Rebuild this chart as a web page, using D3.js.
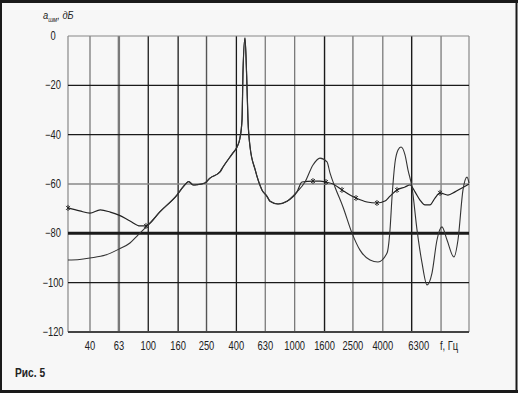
<!DOCTYPE html>
<html><head><meta charset="utf-8">
<script src="https://cdn.jsdelivr.net/npm/d3@7"></script>
<style>
html,body{margin:0;padding:0;background:#f7f7f7;}
svg{display:block;}
.lbl{font-family:"Liberation Sans",Arial,sans-serif;font-size:12px;fill:#222;}
</style>
</head><body>
<script>
// ---- data ----
const xTicks = [40, 63, 100, 160, 250, 400, 630, 1000, 1600, 2500, 4000, 6300, 10000];
const xTickLabels = ["40","63","100","160","250","400","630","1000","1600","2500","4000","6300",""];
const yTicks = [0, -20, -40, -60, -80, -100, -120];
const yTickLabels = ["0","\u221220","\u221240","\u221260","\u221280","\u2212100","\u2212120"];

const freqA = [28.3,34,40,51,63,75,85,100,120,157,173,189,203,215,244,264,309,324,379,404,423,437,444,458,470,480,496,536,598,647,679,770,887,1037,1177,1334,1489,1663,1743,1885,2139,2465,2795,3272,3708,4275,4480,4625,4842,5082,5325,5672,5944,6328,6852,7412,8016,8672,9380,10140,10985,12250,13050,14120,15040,15520];
const dbA   = [-90.8,-90.6,-90,-88.8,-86.4,-83.9,-80.7,-76.6,-71.3,-64.5,-61.2,-59,-60.4,-60.3,-59.6,-57.6,-55.1,-53.1,-47.4,-45,-41.4,-34,-14,-0.8,-16,-34,-45,-54,-62.4,-65,-67,-68.1,-67,-63.2,-59.2,-52.3,-49.5,-51,-55.5,-61.2,-69.3,-79.9,-86.8,-90.8,-91.6,-88,-78.6,-65.3,-51.5,-46.2,-45,-48.2,-54.3,-61.2,-78.6,-92,-100.9,-96.1,-82.7,-77.4,-82.7,-89.6,-82.7,-62.4,-57.2,-59.6];

const freqB = [28.3,34,40,47,55,63,75,88,96.5,103,120,157,173,189,203,215,244,264,309,324,379,404,423,437,444,458,470,480,496,536,598,647,679,770,887,1037,1122,1334,1489,1637,1828,2105,2388,2625,3120,3649,4140,4480,5000,5672,6140,6640,7180,7764,8400,9090,9836,11140,12450,13900,15520];
const dbB   = [-69.7,-70.9,-71.8,-70.5,-71.4,-72.6,-75,-77,-77,-75.8,-71.3,-64.5,-61.2,-59,-60.4,-60.3,-59.6,-57.6,-55.1,-53.1,-47.4,-45,-41.4,-34,-14,-0.8,-16,-34,-45,-54,-62.4,-65,-67,-68.1,-67,-63.2,-59.2,-58.8,-58.8,-59.2,-60,-62.4,-64.5,-65.7,-67.3,-67.7,-66.9,-64.9,-62.4,-61.2,-60.4,-63.2,-66.5,-68.5,-68.5,-65.7,-63.6,-64.5,-63.2,-61.6,-60];
const markB = [28.3,96.5,1334,1637,2105,2625,3649,5000,9836];

// ---- drawing ----
const W = 518, H = 393;
const svg = d3.select("body").append("svg").attr("width", W).attr("height", H);
svg.append("rect").attr("x",0).attr("y",0).attr("width",W).attr("height",H).attr("fill","#f7f7f7");

const x = d3.scaleLog().domain([28.3, 15520]).range([68, 469]);
const y = d3.scaleLinear().domain([-120, 0]).range([332, 36]);

const vStyle = {40:["#7a7a7a",1.3],63:["#7a7a7a",2.4],100:["#1a1a1a",1.3],160:["#1a1a1a",1.3],250:["#555",1.4],400:["#1a1a1a",1.3],
  630:["#7a7a7a",1.3],1000:["#7a7a7a",1.3],1600:["#1a1a1a",1.4],2500:["#7a7a7a",1.4],4000:["#7a7a7a",1.3],6300:["#1a1a1a",1.4],10000:["#7a7a7a",1.3]};
const hStyle = {"0":["#888",1.2],"-20":["#1a1a1a",1.2],"-40":["#1a1a1a",1.2],"-60":["#888",1.3],"-80":["#1a1a1a",3],"-100":["#1a1a1a",1.3],"-120":["#444",2]};

const g = svg.append("g");
g.selectAll("line.v").data(xTicks).enter().append("line")
  .attr("x1", d=>x(d)).attr("x2", d=>x(d)).attr("y1", y(0)).attr("y2", y(-120))
  .attr("stroke", d=>vStyle[d][0]).attr("stroke-width", d=>vStyle[d][1]);
g.append("line").attr("x1",x.range()[0]).attr("x2",x.range()[0]).attr("y1",y(0)).attr("y2",y(-120)).attr("stroke","#888").attr("stroke-width",1.2);
g.append("line").attr("x1",x.range()[1]).attr("x2",x.range()[1]).attr("y1",y(0)).attr("y2",y(-120)).attr("stroke","#888").attr("stroke-width",1.2);
g.selectAll("line.h").data(yTicks).enter().append("line")
  .attr("x1", x.range()[0]).attr("x2", x.range()[1]).attr("y1", d=>y(d)).attr("y2", d=>y(d))
  .attr("stroke", d=>hStyle[String(d)][0]).attr("stroke-width", d=>hStyle[String(d)][1]);

const line = d3.line().x(d=>x(d[0])).y(d=>y(d[1])).curve(d3.curveMonotoneX);
const dataA = freqA.map((f,i)=>[f, dbA[i]]);
const dataB = freqB.map((f,i)=>[f, dbB[i]]);
svg.append("path").attr("d", line(dataB)).attr("fill","none").attr("stroke","#222").attr("stroke-width",1.2);
svg.append("path").attr("d", line(dataA)).attr("fill","none").attr("stroke","#333").attr("stroke-width",1.1);

const valB = f => dbB[freqB.indexOf(f)];
const mk = svg.append("g").selectAll("g").data(markB).enter().append("g")
  .attr("transform", d=>`translate(${x(d)},${y(valB(d))})`);
mk.append("path").attr("d","M-2,-2L2,2M-2,2L2,-2M0,-3L0,3").attr("stroke","#222").attr("stroke-width",0.9);

// condensed labels
function lbl(px, py, txt, opts={}) {
  const t = svg.append("text").attr("class","lbl")
    .attr("transform", `translate(${px},${py}) scale(${opts.sx||0.78},1)`)
    .attr("text-anchor", opts.anchor||"middle").text(txt);
  if (opts.weight) t.style("font-weight", opts.weight);
  if (opts.size) t.style("font-size", opts.size);
  return t;
}
xTicks.forEach((d,i)=>{ if (xTickLabels[i]) lbl(x(d) + (d===6300 ? 7 : 0), 350, xTickLabels[i]); });
lbl(x(10000)+8, 350, "f, \u0413\u0446");
yTicks.forEach((d,i)=> lbl(53, y(d)+4, yTickLabels[i]));

// axis title
const t = svg.append("text").attr("class","lbl").attr("transform","translate(43,19) scale(0.85,1)").style("font-style","italic").style("font-size","11px");
t.append("tspan").text("a");
t.append("tspan").attr("dy",3).style("font-size","7px").text("\u0448\u043c");
t.append("tspan").attr("dy",-3).text(", \u0434\u0411");

// caption
lbl(15, 377, "\u0420\u0438\u0441. 5", {anchor:"start", weight:"bold", size:"12px", sx:0.85});

// outer frame
svg.append("rect").attr("x",1).attr("y",1.5).attr("width",W-2.5).attr("height",H-3).attr("fill","none").attr("stroke","#1a1a1a").attr("stroke-width",2);
svg.append("line").attr("x1",0).attr("x2",W).attr("y1",1.5).attr("y2",1.5).attr("stroke","#1a1a1a").attr("stroke-width",3);
svg.append("line").attr("x1",0).attr("x2",W).attr("y1",H-1.5).attr("y2",H-1.5).attr("stroke","#1a1a1a").attr("stroke-width",3);
</script>
</body></html>
